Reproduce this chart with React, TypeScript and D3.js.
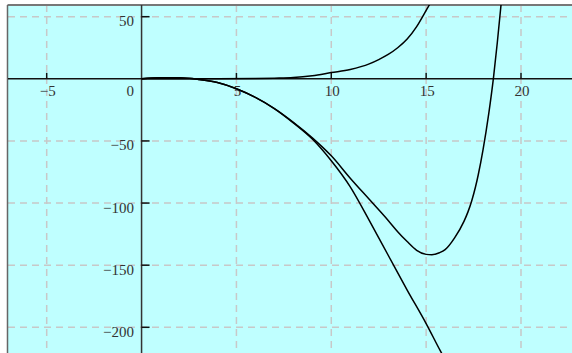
import { useEffect, useRef } from "react";
import * as d3 from "d3";

// tick values
const xTicks = [-5, 5, 10, 15, 20];
const yTicks = [50, -50, -100, -150, -200];

// curve: rising one
const riseX = [0, 2, 4, 6, 7, 8, 9, 10, 11, 12, 12.5, 13, 13.5, 14, 14.5, 15, 15.3];
const riseY = [0, 0, 0, 0.2, 0.5, 1, 2.5, 5, 7.5, 12, 15.5, 19.6, 25, 32, 42, 55, 63];

// curve with the minimum near 15
const dipX = [0, 1, 2, 3, 4, 5, 6, 7, 8, 9, 10, 11, 12, 13, 13.5, 14, 14.5, 15, 15.3, 15.7, 16, 16.5, 17, 17.2, 17.4, 17.6, 17.75, 18, 18.3, 18.55, 18.75, 18.95, 19.1];
const dipY = [0, 0.8, 0.8, -0.5, -3, -8, -15, -24, -35, -47.5, -62, -80, -97, -114, -123, -131, -138, -141.3, -141.6, -140, -137.5, -128, -114.5, -107.3, -98.3, -87.1, -77, -57, -28, 1, 29, 60, 86];

// curve falling all the way down
const fallX = [0, 1, 2, 3, 4, 5, 6, 7, 8, 9, 10, 11, 12, 13, 14, 15, 15.75, 16];
const fallY = [0, 0.8, 0.8, -0.5, -3, -8, -15, -24, -35.5, -48.5, -66, -87, -114, -142, -170, -197, -219, -226];

const W = 572;
const H = 353;

const App = () => {
    const svgRef = useRef(null);

    useEffect(() => {
        if (!svgRef.current) return;
        const svg = d3.select(svgRef.current);
        svg.selectAll("*").remove();

        const x = d3.scaleLinear().domain([-5, 20]).range([46.7, 521]);
        const y = d3.scaleLinear().domain([50, -200]).range([16.7, 327.3]);
        const left = 8;
        const top = 5;

        svg.append("clipPath").attr("id", "plotClip")
            .append("rect")
            .attr("x", left).attr("y", top)
            .attr("width", W - left).attr("height", H - top);

        svg.append("rect")
            .attr("x", left).attr("y", top)
            .attr("width", W - left).attr("height", H - top)
            .attr("fill", "#bfffff");

        // grid
        const grid = svg.append("g").attr("stroke", "#c8c8c8").attr("stroke-width", 1.5).attr("stroke-dasharray", "7,5");
        grid.selectAll(".gx").data(xTicks).join("line")
            .attr("x1", (d) => x(d)).attr("x2", (d) => x(d))
            .attr("y1", top).attr("y2", H);
        grid.selectAll(".gy").data(yTicks).join("line")
            .attr("class", "gy")
            .attr("x1", left).attr("x2", W)
            .attr("y1", (d) => y(d)).attr("y2", (d) => y(d));

        // frame lines
        svg.append("line").attr("x1", left - 0.5).attr("x2", W).attr("y1", top).attr("y2", top)
            .attr("stroke", "#777").attr("stroke-width", 2);
        svg.append("line").attr("x1", left - 0.5).attr("x2", left - 0.5).attr("y1", top).attr("y2", H)
            .attr("stroke", "#666").attr("stroke-width", 1.5);

        // axes
        svg.append("line").attr("x1", left).attr("x2", W).attr("y1", y(0)).attr("y2", y(0))
            .attr("stroke", "#111").attr("stroke-width", 1.5);
        svg.append("line").attr("x1", x(0)).attr("x2", x(0)).attr("y1", top).attr("y2", H)
            .attr("stroke", "#333").attr("stroke-width", 1.5);

        // ticks
        svg.selectAll(".tx").data(xTicks).join("line")
            .attr("class", "tx")
            .attr("x1", (d) => x(d)).attr("x2", (d) => x(d))
            .attr("y1", y(0) - 6).attr("y2", y(0))
            .attr("stroke", "#111").attr("stroke-width", 1.5);
        svg.selectAll(".ty").data(yTicks).join("line")
            .attr("class", "ty")
            .attr("x1", x(0)).attr("x2", x(0) + 8)
            .attr("y1", (d) => y(d)).attr("y2", (d) => y(d))
            .attr("stroke", "#111").attr("stroke-width", 1.5);

        const fmt = (v) => (v < 0 ? "\u2212" + Math.abs(v) : String(v));
        const labels = svg.append("g")
            .style("font-family", "'Liberation Serif', serif")
            .style("font-size", "15px")
            .attr("fill", "#333");
        labels.selectAll(".lx").data(xTicks).join("text")
            .attr("class", "lx")
            .attr("x", (d) => x(d) + 1)
            .attr("y", y(0) + 17.5)
            .attr("text-anchor", "middle")
            .text(fmt);
        labels.append("text")
            .attr("x", x(0) - 7.5).attr("y", y(0) + 17.5)
            .attr("text-anchor", "end").text("0");
        labels.selectAll(".ly").data(yTicks).join("text")
            .attr("class", "ly")
            .attr("x", x(0) - 7.5)
            .attr("y", (d) => y(d) + 9.5)
            .attr("text-anchor", "end")
            .text(fmt);

        // curves
        const line = d3.line().x((d) => x(d[0])).y((d) => y(d[1])).curve(d3.curveMonotoneX);
        const curves = svg.append("g").attr("clip-path", "url(#plotClip)");
        [[riseX, riseY], [dipX, dipY], [fallX, fallY]].forEach(([xs, ys]) => {
            curves.append("path")
                .attr("d", line(xs.map((v, i) => [v, ys[i]])))
                .attr("fill", "none")
                .attr("stroke", "#000")
                .attr("stroke-width", 1.5);
        });
    }, []);

    return (
        <svg ref={svgRef} width={W} height={H} style={{ position: "absolute", left: 0, top: 0 }}></svg>
    );
};

export default App;
